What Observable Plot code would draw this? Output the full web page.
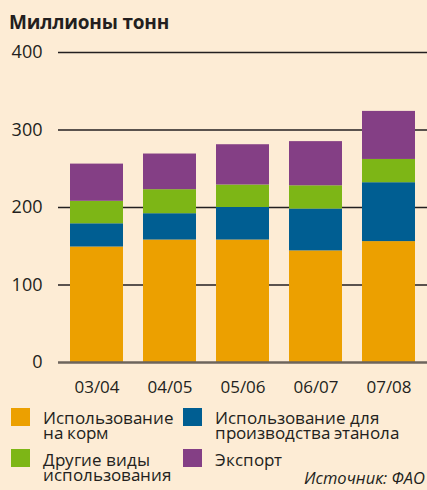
<!DOCTYPE html>
<html><head><meta charset="utf-8">
<script src="https://cdn.jsdelivr.net/npm/d3@7"></script>
<script src="https://cdn.jsdelivr.net/npm/@observablehq/plot@0.6"></script>
<style>
@font-face{font-family:"LegendSans";src:local("Open Sans"),local("Open Sans Regular"),local("OpenSans-Regular");ascent-override:80%;descent-override:10%;line-gap-override:0%}
html,body{margin:0;padding:0;background:#fdecd5;overflow:hidden}
body{font-family:"Open Sans",sans-serif;color:#231f20}
#wrap{position:relative;width:427px;height:490px;overflow:hidden}
#chart{position:absolute;left:0;top:0}
#title{position:absolute;left:9px;top:9px;font-weight:700;font-size:19px;line-height:26px;letter-spacing:-0.2px}
.line{position:absolute;font-family:"LegendSans","Open Sans",sans-serif;font-size:16.5px;line-height:15px;height:15px;white-space:nowrap}
.sw{position:absolute;width:19px;height:18px}
#source{position:absolute;right:2px;top:470px;font-style:italic;font-size:16.5px;line-height:15px;height:15px}
</style></head>
<body><div id="wrap"><div id="chart"></div><div id="title">Миллионы тонн</div><div id="legend"></div><div id="source">Источник: ФАО</div></div>
<script>
const categories = ["03/04", "04/05", "05/06", "06/07", "07/08"];
const seriesNames = ["Использование на корм", "Использование для производства этанола", "Другие виды использования", "Экспорт"];
const legendLines = [["Использование", "на корм"], ["Использование для", "производства этанола"], ["Другие виды", "использования"], ["Экспорт"]];
const colors = ["#eca000", "#005e92", "#7db616", "#843f85"];
const feed = [149, 158, 158, 144, 156];
const ethanol = [30, 34, 42, 54, 76];
const other = [29, 31, 29, 30, 30];
const exportVals = [48, 46, 52, 57, 62];
const yTicks = [0, 100, 200, 300, 400];

const seriesValues = [feed, ethanol, other, exportVals];
const data = [];
seriesNames.forEach((s, i) => categories.forEach((c, j) => data.push({year: c, series: s, value: seriesValues[i][j]})));

const chart = Plot.plot({
  width: 427, height: 400,
  marginLeft: 58, marginRight: 0, marginTop: 52, marginBottom: 38,
  style: {background: "transparent", color: "#231f20", fontFamily: "'Open Sans', sans-serif", fontSize: "18px", overflow: "visible"},
  x: {domain: categories, paddingInner: 0.28, paddingOuter: 0.15, label: null},
  y: {domain: [0, 400], label: null},
  color: {domain: seriesNames, range: colors},
  marks: [
    Plot.ruleY(yTicks.filter(d => d > 0), {stroke: "#231f20", strokeWidth: 1.5}),
    Plot.barY(data, Plot.stackY({x: "year", y: "value", fill: "series", order: seriesNames})),
    Plot.ruleY([0], {stroke: "#6d655c", strokeWidth: 2.5}),
    Plot.axisY({ticks: yTicks, tickSize: 0, tickPadding: 16, fontSize: 18, label: null}),
    Plot.axisX({tickSize: 0, tickPadding: 18, fontSize: 17, label: null})
  ]
});
document.getElementById("chart").appendChild(chart);

const legend = document.getElementById("legend");
const pos = [[11, 408], [183, 408], [11, 449], [183, 449]];
const labTop = [411, 411, 453, 453];
legendLines.forEach((lines, i) => {
  const [x, y] = pos[i];
  const sw = document.createElement("div");
  sw.className = "sw"; sw.style.left = x + "px"; sw.style.top = y + "px"; sw.style.background = colors[i];
  legend.appendChild(sw);
  lines.forEach((t, k) => {
    const ln = document.createElement("div");
    ln.className = "line"; ln.style.left = (x + 32) + "px"; ln.style.top = (labTop[i] + k * 15) + "px";
    ln.textContent = t;
    legend.appendChild(ln);
  });
});
</script></body></html>
